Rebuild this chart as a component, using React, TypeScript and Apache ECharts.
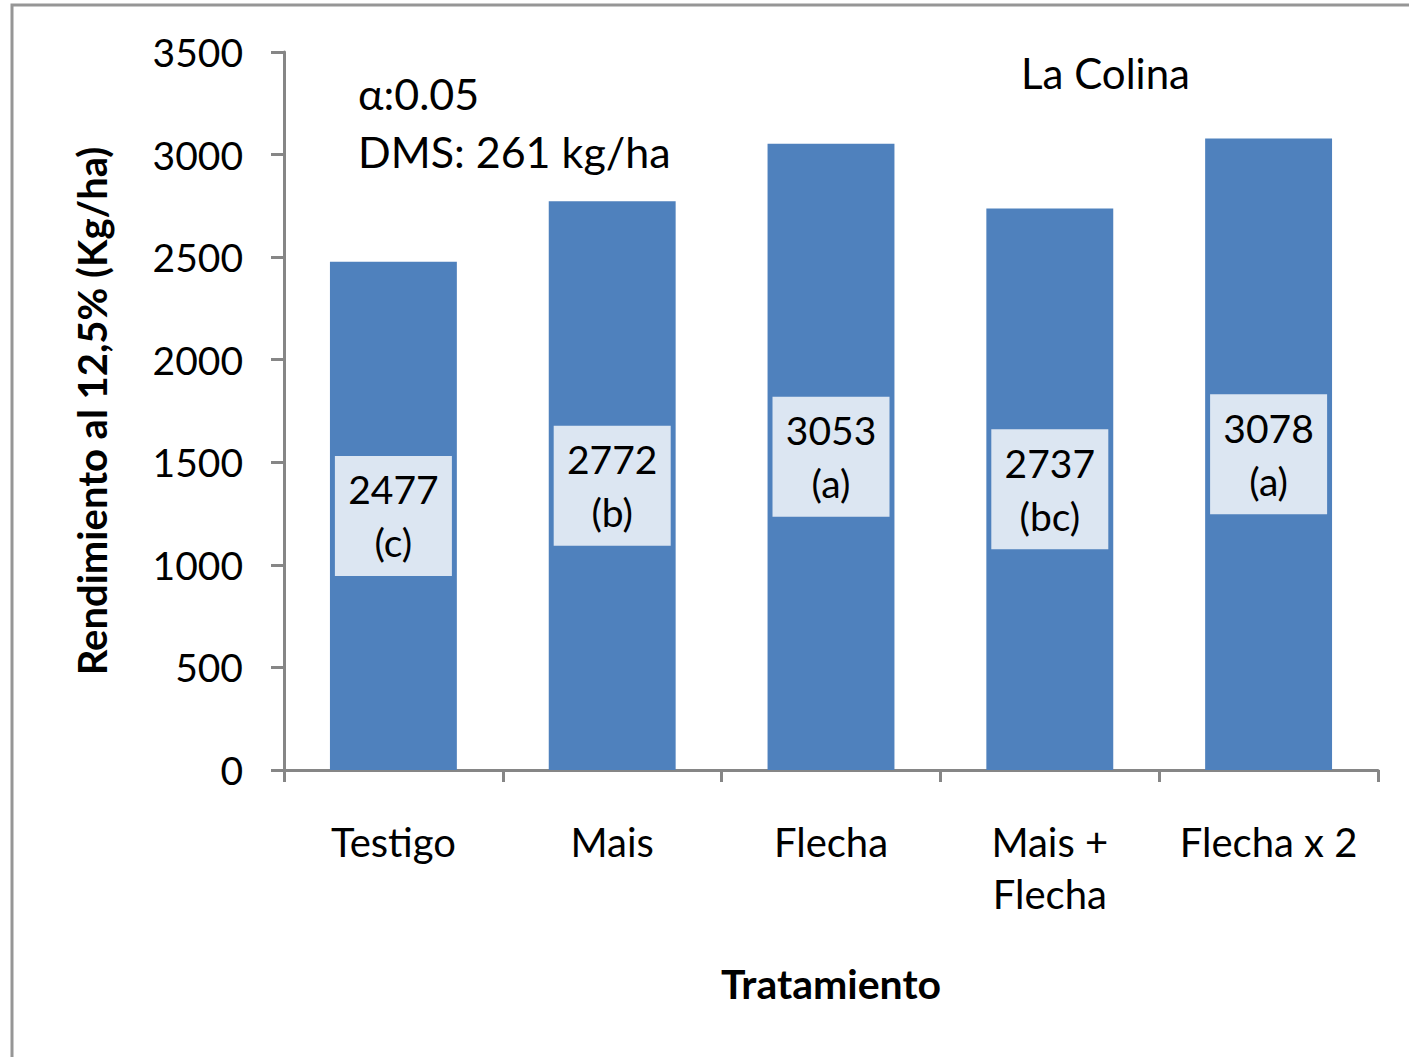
import React, { useEffect, useRef } from "react";
import * as echarts from "echarts";

const categories = ["Testigo", "Mais", "Flecha", "Mais +\nFlecha", "Flecha x 2"];
const yields = [2477, 2772, 3053, 2737, 3078];
const letters = ["c", "b", "a", "bc", "a"];
const yTicks = [0, 500, 1000, 1500, 2000, 2500, 3000, 3500];

const FONT = "Lato, 'Open Sans', sans-serif";

export default function App() {
  const ref = useRef<HTMLDivElement>(null);
  useEffect(() => {
    if (!ref.current) return;
    const chart = echarts.init(ref.current, null, { renderer: "svg" });
    chart.setOption({
      animation: false,
      backgroundColor: "#ffffff",
      grid: { left: 284, right: 31, top: 52, bottom: 287, containLabel: false },
      title: {
        text: "La Colina",
        left: 1016,
        top: 47,
        textStyle: { fontFamily: FONT, fontSize: 42, fontWeight: "normal", color: "#000" },
      },
      graphic: [
        {
          type: "rect",
          shape: { x: 12, y: 5, width: 1420, height: 1080 },
          style: { fill: "none", stroke: "#969696", lineWidth: 3 },
          z: -1,
        },
        {
          type: "text",
          left: 358,
          top: 72,
          style: { text: "α:0.05", fontFamily: FONT, fontSize: 43, fill: "#000" },
        },
        {
          type: "text",
          left: 358,
          top: 130,
          style: { text: "DMS: 261 kg/ha", fontFamily: FONT, fontSize: 43, fill: "#000" },
        },
      ],
      xAxis: {
        type: "category",
        data: categories,
        name: "Tratamiento",
        nameLocation: "middle",
        nameGap: 193,
        nameTextStyle: { fontFamily: FONT, fontSize: 41, fontWeight: "bold", color: "#000" },
        axisLine: { lineStyle: { color: "#868686", width: 3 } },
        axisTick: { show: true, length: 12, lineStyle: { color: "#868686", width: 3 } },
        axisLabel: {
          interval: 0,
          margin: 46,
          fontFamily: FONT,
          fontSize: 40,
          lineHeight: 52,
          color: "#000",
        },
      },
      yAxis: {
        type: "value",
        min: 0,
        max: 3500,
        interval: 500,
        name: "Rendimiento al 12,5% (Kg/ha)",
        nameLocation: "middle",
        nameGap: 172,
        nameTextStyle: { fontFamily: FONT, fontSize: 40, fontWeight: "bold", color: "#000" },
        splitLine: { show: false },
        axisLine: { show: true, lineStyle: { color: "#868686", width: 3 } },
        axisTick: { show: true, length: 13, lineStyle: { color: "#868686", width: 3 } },
        axisLabel: {
          margin: 41,
          fontFamily: FONT,
          fontSize: 39,
          color: "#000",
          formatter: (v: number) => (yTicks.includes(v) ? String(v) : ""),
        },
      },
      series: [
        {
          type: "bar",
          data: yields,
          barWidth: "58%",
          itemStyle: { color: "#4f81bd" },
          label: {
            show: true,
            position: "inside",
            formatter: (p: any) => `${p.value}\n(${letters[p.dataIndex]})`,
            fontFamily: FONT,
            fontSize: 39,
            lineHeight: 53,
            color: "#000",
            backgroundColor: "#dce6f2",
            width: 91,
            align: "center",
            padding: [7, 13, 7, 13],
          },
        },
      ],
    });
    return () => chart.dispose();
  }, []);
  return <div ref={ref} style={{ width: 1409, height: 1057, position: "absolute", left: 0, top: 0 }} />;
}
